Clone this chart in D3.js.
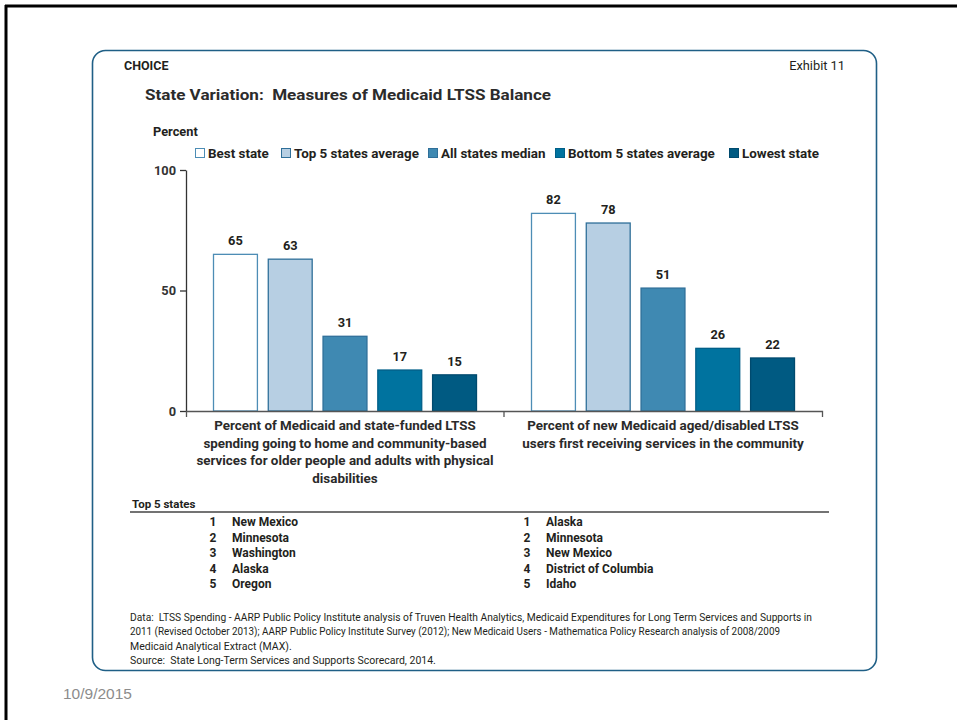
<!DOCTYPE html>
<html><head><meta charset="utf-8">
<script src="https://cdn.jsdelivr.net/npm/d3@7"></script>
<style>
html,body{margin:0;padding:0;background:#fff;}
svg{display:block;font-family:"Roboto","Liberation Sans",sans-serif;}
text{white-space:pre;}
</style></head><body>
<svg id="c" width="957" height="720"></svg>
<script>
const categories = ["LTSS spending", "New LTSS users"];
const series = ["Best state", "Top 5 states average", "All states median", "Bottom 5 states average", "Lowest state"];
const bestState = [65, 82];
const top5Avg = [63, 78];
const allMedian = [31, 51];
const bottom5Avg = [17, 26];
const lowestState = [15, 22];
const yTicks = [0, 50, 100];
const categoryLabels = [
  ["Percent of Medicaid and state-funded LTSS", "spending going to home and community-based", "services for older people and adults with physical", "disabilities"],
  ["Percent of new Medicaid aged/disabled LTSS", "users first receiving services in the community"]
];
const top5Spending = ["New Mexico", "Minnesota", "Washington", "Alaska", "Oregon"];
const top5Users = ["Alaska", "Minnesota", "New Mexico", "District of Columbia", "Idaho"];
const notes = [
  "Data:  LTSS Spending - AARP Public Policy Institute analysis of Truven Health Analytics, Medicaid Expenditures for Long Term Services and Supports in",
  "2011 (Revised October 2013); AARP Public Policy Institute Survey (2012); New Medicaid Users - Mathematica Policy Research analysis of 2008/2009",
  "Medicaid Analytical Extract (MAX).",
  "Source:  State Long-Term Services and Supports Scorecard, 2014."
];

const fills = ["#ffffff", "#b7cfe3", "#3f89b2", "#00739f", "#005a82"];
const strokes = ["#4d8db5", "#2f6f99", "#2f6f99", "#005f88", "#004a6e"];
const values = [bestState, top5Avg, allMedian, bottom5Avg, lowestState];

const svg = d3.select("#c");
// slide border
svg.append("line").attr("x1",5).attr("x2",957).attr("y1",6).attr("y2",6).attr("stroke","#000").attr("stroke-width",3);
svg.append("line").attr("x1",6).attr("x2",6).attr("y1",5).attr("y2",720).attr("stroke","#000").attr("stroke-width",3);
// panel
svg.append("rect").attr("x",92.5).attr("y",50.5).attr("width",784).attr("height",620).attr("rx",13)
  .attr("fill","none").attr("stroke","#1f5f86").attr("stroke-width",1.6);

const txt = (x,y,s,o={}) => svg.append("text").attr("x",x).attr("y",y).text(s)
  .attr("font-size",o.size||12).attr("font-weight",o.weight||"normal").attr("fill",o.fill||"#231f20")
  .attr("text-anchor",o.anchor||"start").attr("font-family",o.family||null);

txt(124,70,"CHOICE",{weight:"bold",size:12.5});
txt(845,70,"Exhibit 11",{size:12.8,anchor:"end"});
txt(145,100,"State Variation:  Measures of Medicaid LTSS Balance",{weight:"bold",size:15.5,fill:"#2b2b2b"})
  .attr("textLength",406).attr("lengthAdjust","spacingAndGlyphs");
txt(153,136,"Percent",{weight:"bold",size:12.8});

// scales
const y = d3.scaleLinear().domain([0,100]).range([411,170]);
const x0 = d3.scaleBand().domain(categories).range([186,822]).padding(0);
const x1 = d3.scaleBand().domain(series).range([27, x0.bandwidth()-27]).paddingInner(0.18).paddingOuter(0);

// y axis
const ya = svg.append("g").attr("transform","translate(186,0)")
  .call(d3.axisLeft(y).tickValues(yTicks).tickSize(6).tickSizeOuter(0).tickPadding(4));
ya.select(".domain").attr("stroke","#333").attr("stroke-width",1.3);
ya.selectAll(".tick line").attr("stroke","#333").attr("stroke-width",1.3);
ya.selectAll(".tick text").attr("font-size",12.8).attr("font-weight","bold").attr("fill","#333").attr("font-family","Roboto");

// bars
categories.forEach((c,ci)=>{
  const g = svg.append("g").attr("transform",`translate(${x0(c)},0)`);
  series.forEach((s,si)=>{
    const v = values[si][ci];
    g.append("rect").attr("x",x1(s)+0.5).attr("y",y(v)).attr("width",x1.bandwidth()-1).attr("height",y(0)-y(v))
      .attr("fill",fills[si]).attr("stroke",strokes[si]).attr("stroke-width",1.3);
    g.append("text").attr("x",x1(s)+x1.bandwidth()/2).attr("y",y(v)-9).attr("text-anchor","middle")
      .attr("font-size",12.8).attr("font-weight","bold").attr("fill","#231f20").attr("font-family","Roboto").text(v);
  });
});

// x axis
const xa = svg.append("g").attr("transform","translate(0,411)")
  .call(d3.axisBottom(x0).tickSize(0).tickSizeOuter(6).tickFormat(""));
xa.select(".domain").attr("stroke","#555").attr("stroke-width",1.3);
svg.append("line").attr("x1",x0(categories[1])).attr("x2",x0(categories[1])).attr("y1",411).attr("y2",417).attr("stroke","#555").attr("stroke-width",1.3);

// category labels
categoryLabels.forEach((lines,ci)=>{
  const cx = x0(categories[ci]) + x0.bandwidth()/2;
  lines.forEach((l,li)=>{
    txt(cx, 430 + li*17.5, l, {anchor:"middle", weight:"bold", size:13.4, fill:"#2a2a2a"});
  });
});

// legend
const legX = [195, 281, 428, 555, 729];
series.forEach((s,si)=>{
  svg.append("rect").attr("x",legX[si]+0.5).attr("y",148.5).attr("width",9).attr("height",9)
    .attr("fill",fills[si]).attr("stroke",strokes[si]).attr("stroke-width",1);
  txt(legX[si]+13,158,s,{weight:"bold",size:13.4,fill:"#231f20"});
});

// top 5 states
txt(132,508,"Top 5 states",{weight:"bold",size:11.5});
svg.append("line").attr("x1",130).attr("x2",829).attr("y1",512).attr("y2",512).attr("stroke","#444").attr("stroke-width",1.3);
[[top5Spending,213,232],[top5Users,527,546]].forEach(([list,nx,tx])=>{
  list.forEach((n,i)=>{
    const yy = 526 + i*15.6;
    txt(nx,yy,String(i+1),{weight:"bold",size:12,anchor:"middle"});
    txt(tx,yy,n,{weight:"bold",size:12});
  });
});

// notes
const noteLens = [682, 650, null, null];
notes.forEach((n,i)=>{
  const t = txt(130, 621 + i*14.3, n, {size:10.5, fill:"#231f20"});
  if (noteLens[i]) t.attr("textLength",noteLens[i]).attr("lengthAdjust","spacingAndGlyphs");
});

txt(63,699,"10/9/2015",{size:15.5,fill:"#8c8c8c",family:"Liberation Sans"});
</script>
</body></html>
